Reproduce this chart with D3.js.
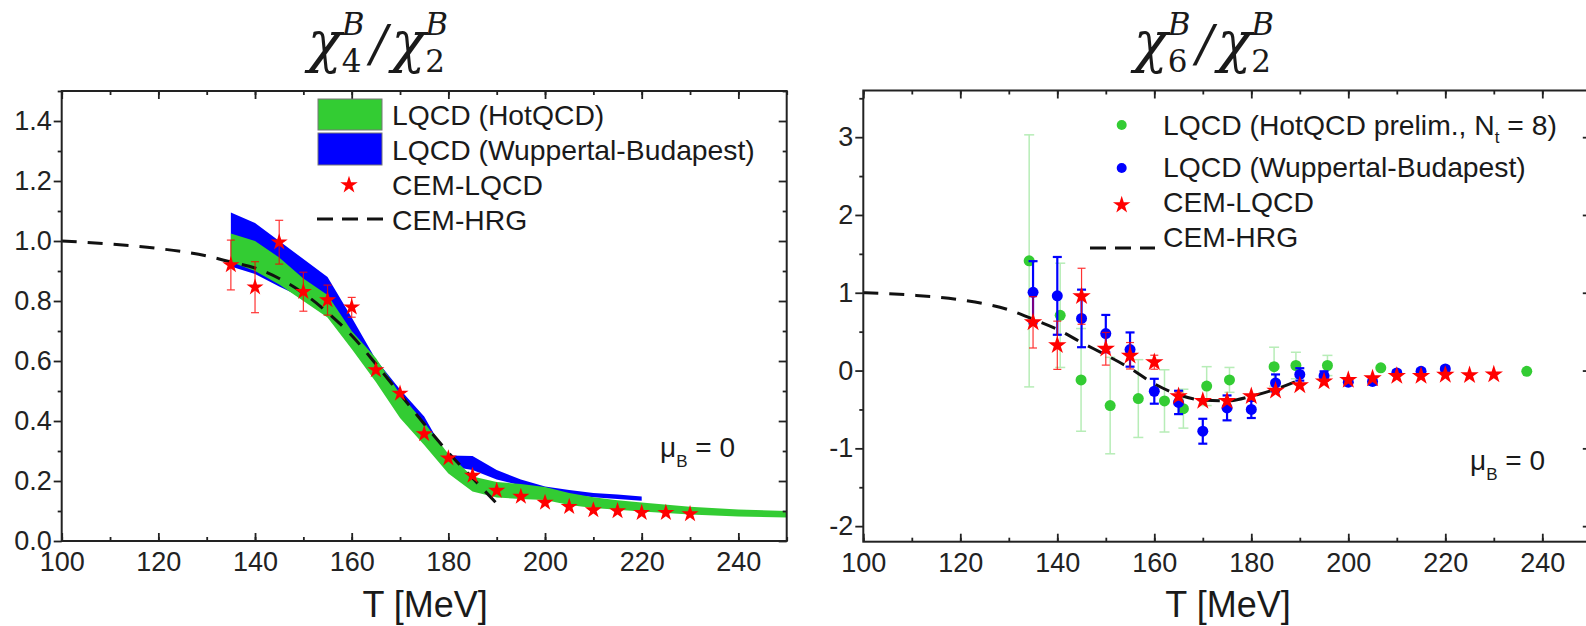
<!DOCTYPE html>
<html>
<head>
<meta charset="utf-8">
<script src="https://cdn.jsdelivr.net/npm/d3@7"></script>
<style>
  body { margin: 0; background: #fff; }
  svg { display: block; font-family: "Liberation Sans", Arial, sans-serif; }
</style>
</head>
<body>
<div id="chart"></div>
<script>
// ---------- data : chi4/chi2 (left panel) ----------
const tTicks = [100, 120, 140, 160, 180, 200, 220, 240];
const tMinor = d3.range(100, 251, 10);
const chi42Ticks = [0, 0.2, 0.4, 0.6, 0.8, 1.0, 1.2, 1.4];
const chi42Minor = [0.1, 0.3, 0.5, 0.7, 0.9, 1.1, 1.3, 1.5];

const cemT = [135, 140, 145, 150, 155, 160, 165, 170, 175, 180, 185, 190, 195, 200, 205, 210, 215, 220, 225, 230];
const chi42Cem = [0.92, 0.846, 0.996, 0.831, 0.803, 0.779, 0.57, 0.492, 0.357, 0.276, 0.218, 0.168, 0.148, 0.128, 0.114, 0.103, 0.1, 0.094, 0.094, 0.09];
const chi42CemErr = [0.083, 0.085, 0.073, 0.065, 0.05, 0.033, 0, 0, 0, 0, 0, 0, 0, 0, 0, 0, 0, 0, 0, 0];

// HotQCD band
const hotBandT = [135, 140, 145, 150, 155, 160, 165, 170, 175, 180, 185, 190, 195, 200, 205, 210, 215, 220, 230, 240, 250];
const hotBandLo = [0.93, 0.9, 0.855, 0.8, 0.745, 0.64, 0.53, 0.41, 0.32, 0.225, 0.165, 0.145, 0.14, 0.137, 0.12, 0.11, 0.104, 0.098, 0.088, 0.082, 0.078];
const hotBandHi = [1.025, 1.0, 0.945, 0.875, 0.82, 0.70, 0.61, 0.49, 0.395, 0.29, 0.215, 0.197, 0.19, 0.18, 0.16, 0.146, 0.136, 0.128, 0.114, 0.105, 0.1];

// Wuppertal-Budapest band
const wbBandT = [135, 140, 145, 150, 155, 160, 165, 170, 175, 178, 180, 185, 190, 195, 200, 205, 210, 215, 220];
const wbBandLo = [0.915, 0.89, 0.848, 0.81, 0.76, 0.65, 0.545, 0.43, 0.35, 0.28, 0.25, 0.237, 0.205, 0.185, 0.168, 0.155, 0.146, 0.14, 0.134];
const wbBandHi = [1.095, 1.06, 1.0, 0.94, 0.88, 0.745, 0.605, 0.505, 0.415, 0.33, 0.285, 0.283, 0.237, 0.205, 0.182, 0.17, 0.16, 0.155, 0.148];

const hrgT = [100, 110, 120, 130, 135, 140, 145, 150, 155, 160, 165, 170, 175, 180, 185, 190];
const chi42Hrg = [1.0, 0.99, 0.975, 0.95, 0.93, 0.91, 0.875, 0.826, 0.762, 0.685, 0.59, 0.49, 0.39, 0.295, 0.21, 0.125];

// ---------- data : chi6/chi2 (right panel) ----------
const chi62Ticks = [-2, -1, 0, 1, 2, 3];
const chi62Minor = [-1.5, -0.5, 0.5, 1.5, 2.5, 3.5];

const chi62Cem = [0.62, 0.325, 0.955, 0.28, 0.19, 0.107, -0.33, -0.39, -0.39, -0.33, -0.26, -0.19, -0.14, -0.12, -0.1, -0.07, -0.07, -0.055, -0.06, -0.05];
const chi62CemErr = [0.33, 0.31, 0.36, 0.21, 0.17, 0.09, 0.05, 0, 0, 0, 0, 0, 0, 0, 0, 0, 0, 0, 0, 0];

const wbT = [135, 140, 145, 150, 155, 160, 165, 170, 175, 180, 185, 190, 195, 200, 205, 210, 215, 220];
const chi62Wb = [1.006, 0.96, 0.67, 0.475, 0.27, -0.266, -0.41, -0.78, -0.48, -0.5, -0.16, -0.05, -0.07, -0.15, -0.14, -0.03, -0.01, 0.02];
const chi62WbErr = [0.4, 0.5, 0.37, 0.24, 0.22, 0.16, 0.15, 0.16, 0.16, 0.11, 0.11, 0.08, 0.06, 0.04, 0.04, 0.03, 0.03, 0.03];

const hotT = [134.2, 140.6, 144.9, 150.9, 156.7, 162.1, 166, 170.8, 175.5, 184.7, 189.2, 195.7, 206.7, 236.8];
const chi62Hot = [1.41, 0.71, -0.12, -0.45, -0.36, -0.39, -0.49, -0.2, -0.12, 0.05, 0.065, 0.065, 0.035, -0.01];
const chi62HotErr = [1.62, 0.67, 0.66, 0.62, 0.5, 0.4, 0.25, 0.25, 0.16, 0.25, 0.17, 0.13, 0, 0];

const chi62Hrg = [1.0, 0.97, 0.91, 0.78, 0.66, 0.53, 0.36, 0.2, 0.03, -0.17, -0.31, -0.38, -0.39, -0.33, -0.24, -0.12];

// ---------- setup ----------
const width = 1586;
const height = 626;
const green = "#33cc33";
const blue = "#0000ff";
const red = "#ff0000";
const ink = "#1a1a1a";

const svg = d3.select("#chart")
  .append("svg")
    .attr("width", width)
    .attr("height", height);

function drawAxes(g, x, y, p) {
  const col = "#222";
  // bottom: ticks point inside
  g.append("g").attr("transform", `translate(0,${p.bottom})`)
    .call(d3.axisBottom(x).tickValues(tMinor).tickSize(-4).tickFormat(""));
  g.append("g").attr("class", "lab").attr("transform", `translate(0,${p.bottom})`)
    .call(d3.axisBottom(x).tickValues(tTicks).tickSize(-8).tickPadding(11).tickFormat(d => d));
  // top
  g.append("g").attr("transform", `translate(0,${p.top})`)
    .call(d3.axisTop(x).tickValues(tMinor).tickSize(-4).tickFormat(""));
  g.append("g").attr("transform", `translate(0,${p.top})`)
    .call(d3.axisTop(x).tickValues(tTicks).tickSize(-8).tickFormat(""));
  // left: ticks point outside
  g.append("g").attr("transform", `translate(${p.left},0)`)
    .call(d3.axisLeft(y).tickValues(p.yMinor).tickSize(4).tickFormat(""));
  g.append("g").attr("class", "lab").attr("transform", `translate(${p.left},0)`)
    .call(d3.axisLeft(y).tickValues(p.yTicks).tickSize(8).tickPadding(2).tickFormat(p.fmt));
  // right
  g.append("g").attr("transform", `translate(${p.right},0)`)
    .call(d3.axisRight(y).tickValues(p.yMinor).tickSize(-4).tickFormat(""));
  g.append("g").attr("transform", `translate(${p.right},0)`)
    .call(d3.axisRight(y).tickValues(p.yTicks).tickSize(-8).tickFormat(""));

  g.selectAll(".domain").remove();
  g.selectAll(".tick line").attr("stroke", col).attr("stroke-width", 1.8);
  g.selectAll(".lab")
    .attr("font-size", 27)
    .attr("font-family", '"Liberation Sans", Arial, sans-serif');
  g.selectAll(".lab text").attr("fill", col);

  g.append("rect")
    .attr("x", p.left).attr("y", p.top)
    .attr("width", p.right - p.left).attr("height", p.bottom - p.top)
    .attr("fill", "none").attr("stroke", col).attr("stroke-width", 2);

  // axis title
  g.append("text")
    .attr("x", (p.left + p.right) / 2 + 1)
    .attr("y", 617)
    .attr("text-anchor", "middle")
    .attr("font-size", 36)
    .attr("fill", ink)
    .text("T [MeV]");
}

// title like chi_4^B / chi_2^B
function drawTitle(cx, low) {
  const tg = svg.append("g").attr("font-family", '"DejaVu Serif", "Liberation Serif", serif')
    .attr("fill", ink);
  let xp = 0;
  const parts = [["χ", "B", low], ["/"], ["χ", "B", "2"]];
  parts.forEach(function(pt) {
    const isSlash = pt[0] === "/";
    if (isSlash) xp += 4;
    const t = tg.append("text").attr("x", xp).attr("y", 61)
      .attr("font-size", isSlash ? 50 : 56).attr("font-style", "italic").text(pt[0]);
    xp += t.node().getComputedTextLength() + (isSlash ? 4 : 0);
    if (pt.length > 1) {
      const a = tg.append("text").attr("x", xp).attr("y", 35).attr("font-size", 31)
        .attr("font-style", "italic").text(pt[1]);
      const b = tg.append("text").attr("x", xp).attr("y", 72).attr("font-size", 31)
        .text(pt[2]);
      xp += Math.max(a.node().getComputedTextLength(), b.node().getComputedTextLength()) + 2;
    }
  });
  tg.attr("transform", `translate(${cx - xp / 2},0)`);
}

function errorBars(g, x, y, ts, vs, es, color, sw, cap, op) {
  const rows = d3.zip(ts, vs, es).filter(d => d[2] > 0);
  const eb = g.append("g").attr("stroke", color).attr("stroke-width", sw).attr("opacity", op);
  eb.selectAll("line.v").data(rows).join("line").attr("class", "v")
    .attr("x1", d => x(d[0])).attr("x2", d => x(d[0]))
    .attr("y1", d => y(d[1] - d[2])).attr("y2", d => y(d[1] + d[2]));
  eb.selectAll("line.t").data(rows).join("line").attr("class", "t")
    .attr("x1", d => x(d[0]) - cap).attr("x2", d => x(d[0]) + cap)
    .attr("y1", d => y(d[1] + d[2])).attr("y2", d => y(d[1] + d[2]));
  eb.selectAll("line.b").data(rows).join("line").attr("class", "b")
    .attr("x1", d => x(d[0]) - cap).attr("x2", d => x(d[0]) + cap)
    .attr("y1", d => y(d[1] - d[2])).attr("y2", d => y(d[1] - d[2]));
}

function stars(g, x, y, ts, vs, size) {
  const star = d3.symbol(d3.symbolStar, size);
  g.append("g").selectAll("path").data(d3.zip(ts, vs)).join("path")
    .attr("d", star)
    .attr("transform", d => `translate(${x(d[0])},${y(d[1])})`)
    .attr("fill", red);
}

function dots(g, x, y, ts, vs, color, r) {
  g.append("g").selectAll("circle").data(d3.zip(ts, vs)).join("circle")
    .attr("cx", d => x(d[0])).attr("cy", d => y(d[1])).attr("r", r)
    .attr("fill", color);
}

function dashed(g, x, y, ts, vs) {
  const line = d3.line().x(d => x(d[0])).y(d => y(d[1])).curve(d3.curveMonotoneX);
  g.append("path").datum(d3.zip(ts, vs))
    .attr("d", line).attr("fill", "none")
    .attr("stroke", "#111").attr("stroke-width", 3)
    .attr("stroke-dasharray", "15,11");
}

function muLabel(x0, y0) {
  const t = svg.append("text").attr("x", x0).attr("y", y0)
    .attr("font-size", 28).attr("fill", ink);
  t.append("tspan").text("μ");
  t.append("tspan").attr("dy", 10).attr("font-size", 17).text("B");
  t.append("tspan").attr("dy", -10).text(" = 0");
}

// ---------- left panel ----------
(function() {
  const p = {left: 61.7, right: 786.7, top: 91, bottom: 541,
             yTicks: chi42Ticks, yMinor: chi42Minor, fmt: d3.format(".1f")};
  const x = d3.scaleLinear().domain([100, 250]).range([p.left, p.right]);
  const y = d3.scaleLinear().domain([0, 1.5]).range([p.bottom, p.top]);
  const g = svg.append("g");

  const area = d3.area().x(d => x(d[0])).y0(d => y(d[1])).y1(d => y(d[2]));
  g.append("path").datum(d3.zip(wbBandT, wbBandLo, wbBandHi))
    .attr("d", area).attr("fill", blue);
  g.append("path").datum(d3.zip(hotBandT, hotBandLo, hotBandHi))
    .attr("d", area).attr("fill", green);

  dashed(g, x, y, hrgT, chi42Hrg);
  errorBars(g, x, y, cemT, chi42Cem, chi42CemErr, red, 1.2, 4, 0.8);
  stars(g, x, y, cemT, chi42Cem, 90);
  drawAxes(g, x, y, p);

  // legend
  const lg = svg.append("g");
  lg.append("rect").attr("x", 318).attr("y", 99).attr("width", 64).attr("height", 31)
    .attr("fill", green).attr("stroke", "#777").attr("stroke-width", 1);
  lg.append("rect").attr("x", 318).attr("y", 133).attr("width", 64).attr("height", 32)
    .attr("fill", blue).attr("stroke", "#777").attr("stroke-width", 1);
  lg.append("path").attr("d", d3.symbol(d3.symbolStar, 95)())
    .attr("transform", "translate(349,185)").attr("fill", red);
  lg.append("line").attr("x1", 317).attr("x2", 383).attr("y1", 219).attr("y2", 219)
    .attr("stroke", "#111").attr("stroke-width", 3).attr("stroke-dasharray", "16,9");
  const labs = ["LQCD (HotQCD)", "LQCD (Wuppertal-Budapest)", "CEM-LQCD", "CEM-HRG"];
  const ys = [125, 160, 195, 230];
  lg.selectAll("text").data(labs).join("text")
    .attr("x", 392).attr("y", (d, i) => ys[i])
    .attr("font-size", 28.3).attr("fill", ink).text(d => d);

  muLabel(660, 457);
  drawTitle(379, "4");
})();

// ---------- right panel ----------
(function() {
  const p = {left: 863.3, right: 1590.8, top: 90.5, bottom: 541.7,
             yTicks: chi62Ticks, yMinor: chi62Minor, fmt: d => String(d)};
  const x = d3.scaleLinear().domain([100, 250]).range([p.left, p.right]);
  const y = d3.scaleLinear().domain([-2.2, 3.6]).range([p.bottom, p.top]);
  const g = svg.append("g");

  errorBars(g, x, y, hotT, chi62Hot, chi62HotErr, green, 1.5, 5, 0.35);
  dots(g, x, y, hotT, chi62Hot, green, 5.5);
  errorBars(g, x, y, wbT, chi62Wb, chi62WbErr, blue, 2.2, 4.5, 1);
  dots(g, x, y, wbT, chi62Wb, blue, 5.5);
  dashed(g, x, y, hrgT, chi62Hrg);
  errorBars(g, x, y, cemT, chi62Cem, chi62CemErr, red, 1.2, 4, 0.8);
  stars(g, x, y, cemT, chi62Cem, 105);
  drawAxes(g, x, y, p);

  // legend
  const lg = svg.append("g");
  lg.append("circle").attr("cx", 1121.7).attr("cy", 125).attr("r", 5).attr("fill", green);
  lg.append("circle").attr("cx", 1121.7).attr("cy", 168).attr("r", 5).attr("fill", blue);
  lg.append("path").attr("d", d3.symbol(d3.symbolStar, 95)())
    .attr("transform", "translate(1121.7,205)").attr("fill", red);
  lg.append("line").attr("x1", 1090).attr("x2", 1155).attr("y1", 248).attr("y2", 248)
    .attr("stroke", "#111").attr("stroke-width", 3).attr("stroke-dasharray", "16,9");

  const t1 = lg.append("text").attr("x", 1163).attr("y", 135).attr("font-size", 28.3).attr("fill", ink);
  t1.append("tspan").text("LQCD (HotQCD prelim., N");
  t1.append("tspan").attr("dy", 8).attr("font-size", 17).text("t");
  t1.append("tspan").attr("dy", -8).text(" = 8)");
  const labs = ["LQCD (Wuppertal-Budapest)", "CEM-LQCD", "CEM-HRG"];
  const ys = [176.7, 211.7, 246.7];
  lg.selectAll("text.l").data(labs).join("text").attr("class", "l")
    .attr("x", 1163).attr("y", (d, i) => ys[i])
    .attr("font-size", 28.3).attr("fill", ink).text(d => d);

  muLabel(1470, 470);
  drawTitle(1205, "6");
})();
</script>
</body>
</html>
